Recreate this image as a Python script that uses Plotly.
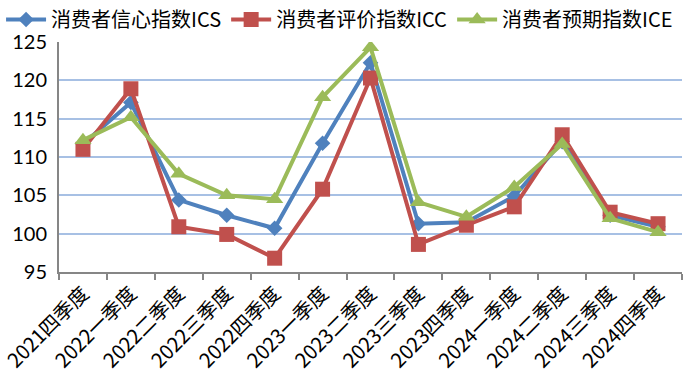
import plotly.graph_objects as go

categories = ["2021四季度", "2022一季度", "2022二季度", "2022三季度", "2022四季度",
              "2023一季度", "2023二季度", "2023三季度", "2023四季度",
              "2024一季度", "2024二季度", "2024三季度", "2024四季度"]
ics = [111.7, 117.1, 104.4, 102.4, 100.7, 111.8, 122.3, 101.3, 101.5, 104.9, 112.0, 102.4, 100.9]
icc = [111.0, 118.9, 100.9, 99.9, 96.8, 105.8, 120.3, 98.6, 101.1, 103.5, 112.9, 102.8, 101.3]
ice = [112.2, 115.2, 107.8, 105.0, 104.5, 117.8, 124.3, 104.1, 102.2, 106.1, 111.7, 102.0, 100.2]

names = ["消费者信心指数ICS", "消费者评价指数ICC", "消费者预期指数ICE"]
colors = ["#4F81BD", "#C0504D", "#9BBB59"]
symbols = ["diamond", "square", "triangle-up"]
sizes = [12, 15, 15]

fig = go.Figure()
for vals, name, c, s, sz in zip([ics, icc, ice], names, colors, symbols, sizes):
    fig.add_trace(go.Scatter(
        x=categories, y=vals, name=name, mode="lines+markers",
        line=dict(color=c, width=4),
        marker=dict(symbol=s, size=sz, color=c),
    ))

font_main = "Lato, 'Noto Sans CJK SC', sans-serif"
plot_h = 377 - 41 - 105
fig.update_layout(
    width=683, height=377,
    margin=dict(l=59, r=1, t=41, b=105),
    plot_bgcolor="white", paper_bgcolor="white",
    font=dict(family=font_main, size=16, color="black"),
    showlegend=True,
    legend=dict(orientation="h", x=-0.093, y=1 + 41 / plot_h, yanchor="top", xanchor="left",
                font=dict(size=20, family="'Noto Sans CJK SC', Lato, sans-serif"),
                itemwidth=40, tracegroupgap=0, bgcolor="rgba(0,0,0,0)"),
    xaxis=dict(type="category", range=[-0.5, 12.5], tickangle=-45,
               showline=True, linecolor="#868686", linewidth=2,
               ticks="outside", tickson="boundaries", ticklen=6, tickcolor="#868686", tickwidth=2,
               showgrid=False,
               tickfont=dict(size=20, family="'Noto Sans CJK SC', sans-serif")),
    yaxis=dict(range=[95, 125], dtick=5, showline=True, linecolor="#868686", linewidth=2,
               ticks="", ticklabelstandoff=6,
               showgrid=True, gridcolor="#A7C0E4", gridwidth=2, zeroline=False,
               tickfont=dict(size=20, family=font_main)),
)

fig.write_html("out.html")
